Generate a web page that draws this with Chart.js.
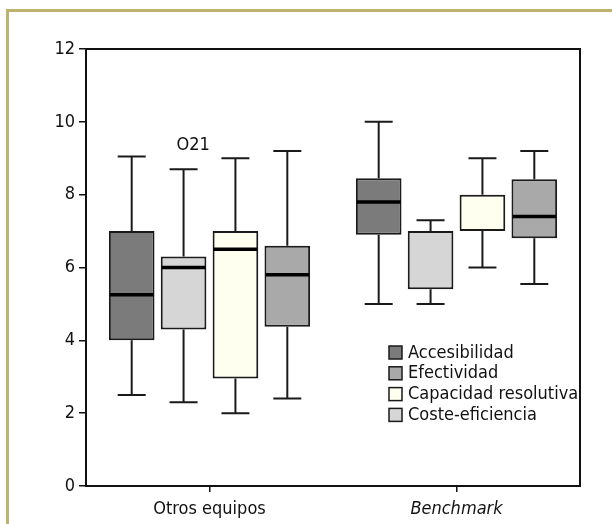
<!DOCTYPE html>
<html>
<head>
<meta charset="utf-8">
<script src="https://cdn.jsdelivr.net/npm/chart.js@4"></script>
<style>
  html, body { margin: 0; padding: 0; background: #fff; }
  body { width: 612px; height: 524px; overflow: hidden; position: relative; }
  .frame { position: absolute; left: 6px; top: 9px; width: 700px; height: 600px;
           border-left: 3px solid #bdb36e; border-top: 3px solid #bdb36e; }
  #wrap { position: absolute; left: 0; top: 0; width: 612px; height: 524px; }
</style>
</head>
<body>
<div class="frame"></div>
<div id="wrap"><canvas id="boxChart"></canvas></div>
<script>
// Datos
const groups = ['Otros equipos', 'Benchmark'];
const series = ['Accesibilidad', 'Coste-eficiencia', 'Capacidad resolutiva', 'Efectividad'];
const colors = ['#7b7b7b', '#d6d6d6', '#fffff0', '#a9a9a9'];
const legendOrder = [0, 3, 2, 1];

// por serie: [Otros equipos, Benchmark]
const mins    = [[2.5, 5.0], [2.3, 5.0], [2.0, 6.0], [2.4, 5.55]];
const q1s     = [[4.0, 6.9], [4.3, 5.4], [2.95, 7.0], [4.37, 6.8]];
const medians = [[5.25, 7.8], [6.0, null], [6.5, null], [5.8, 7.4]];
const q3s     = [[7.0, 8.45], [6.3, 7.0], [7.0, 8.0], [6.6, 8.42]];
const maxs    = [[9.05, 10.0], [8.7, 7.3], [9.0, 9.0], [9.2, 9.2]];
const outliers = [{ serie: 1, group: 0, value: 9.35, label: 'O21' }];
const yTicks = [0, 2, 4, 6, 8, 10, 12];

const FONT = "'Liberation Sans Narrow', 'DejaVu Sans Condensed', 'Liberation Sans', sans-serif";

const boxPlugin = {
  id: 'boxExtras',
  afterDatasetsDraw(chart) {
    const ctx = chart.ctx;
    const y = chart.scales.y;
    const area = chart.chartArea;
    ctx.save();
    // marco del área
    ctx.strokeStyle = '#111';
    ctx.lineWidth = 2;
    ctx.strokeRect(area.left, area.top, area.right - area.left, area.bottom - area.top);

    series.forEach((s, si) => {
      const meta = chart.getDatasetMeta(si);
      meta.data.forEach((bar, gi) => {
        const x = bar.x;
        const half = bar.width / 2;
        const cap = 14;
        ctx.strokeStyle = '#1a1a1a';
        ctx.lineWidth = 2;
        ctx.beginPath();
        ctx.moveTo(x, y.getPixelForValue(q3s[si][gi]));
        ctx.lineTo(x, y.getPixelForValue(maxs[si][gi]));
        ctx.moveTo(x - cap, y.getPixelForValue(maxs[si][gi]));
        ctx.lineTo(x + cap, y.getPixelForValue(maxs[si][gi]));
        ctx.moveTo(x, y.getPixelForValue(q1s[si][gi]));
        ctx.lineTo(x, y.getPixelForValue(mins[si][gi]));
        ctx.moveTo(x - cap, y.getPixelForValue(mins[si][gi]));
        ctx.lineTo(x + cap, y.getPixelForValue(mins[si][gi]));
        ctx.stroke();
        if (medians[si][gi] !== null) {
          ctx.lineWidth = 3.5;
          ctx.strokeStyle = '#000';
          ctx.beginPath();
          ctx.moveTo(x - half + 1, y.getPixelForValue(medians[si][gi]));
          ctx.lineTo(x + half - 1, y.getPixelForValue(medians[si][gi]));
          ctx.stroke();
        }
      });
    });

    // atípicos
    ctx.fillStyle = '#111';
    ctx.font = '18px ' + FONT;
    ctx.textBaseline = 'middle';
    ctx.textAlign = 'left';
    outliers.forEach(o => {
      const bar = chart.getDatasetMeta(o.serie).data[o.group];
      ctx.fillText(o.label, bar.x - 7, y.getPixelForValue(o.value));
    });

    // leyenda
    const lx = 389, ly = 346, step = 20.8, sq = 13;
    legendOrder.forEach((si, k) => {
      const top = ly + k * step;
      ctx.fillStyle = colors[si];
      ctx.fillRect(lx, top, sq, sq);
      ctx.strokeStyle = '#1a1a1a';
      ctx.lineWidth = 1.5;
      ctx.strokeRect(lx, top, sq, sq);
      ctx.fillStyle = '#111';
      ctx.fillText(series[si], lx + 19, top + sq / 2 + 0.5);
    });
    ctx.restore();
  }
};

new Chart(document.getElementById('boxChart'), {
  type: 'bar',
  data: {
    labels: groups,
    datasets: series.map((s, si) => ({
      label: s,
      data: q1s[si].map((q, gi) => [q, q3s[si][gi]]),
      backgroundColor: colors[si],
      borderColor: '#1a1a1a',
      borderWidth: 2,
      borderSkipped: false,
      categoryPercentage: 0.84,
      barPercentage: 0.88
    }))
  },
  options: {
    responsive: true,
    maintainAspectRatio: false,
    animation: false,
    layout: { padding: { top: 49, right: 32, left: 0, bottom: 0 } },
    plugins: { legend: { display: false }, tooltip: { enabled: false } },
    scales: {
      x: {
        grid: { display: true, drawOnChartArea: false, offset: false, tickLength: 6, color: '#111', lineWidth: 1.5 },
        border: { display: true, color: '#111', width: 2 },
        ticks: {
          color: '#111', padding: 7,
          font: c => ({ family: FONT, size: 18, style: c.index === 1 ? 'italic' : 'normal' })
        },
        afterFit: s => { s.height = 38; }
      },
      y: {
        min: 0, max: 12,
        afterBuildTicks: s => { s.ticks = yTicks.map(v => ({ value: v })); },
        grid: { display: true, drawOnChartArea: false, tickLength: 7, color: '#111', lineWidth: 1.5 },
        border: { display: true, color: '#111', width: 2 },
        ticks: { color: '#111', padding: 4, font: { family: FONT, size: 18 } },
        afterFit: s => { s.width = 86; }
      }
    }
  },
  plugins: [boxPlugin]
});
</script>
</body>
</html>
